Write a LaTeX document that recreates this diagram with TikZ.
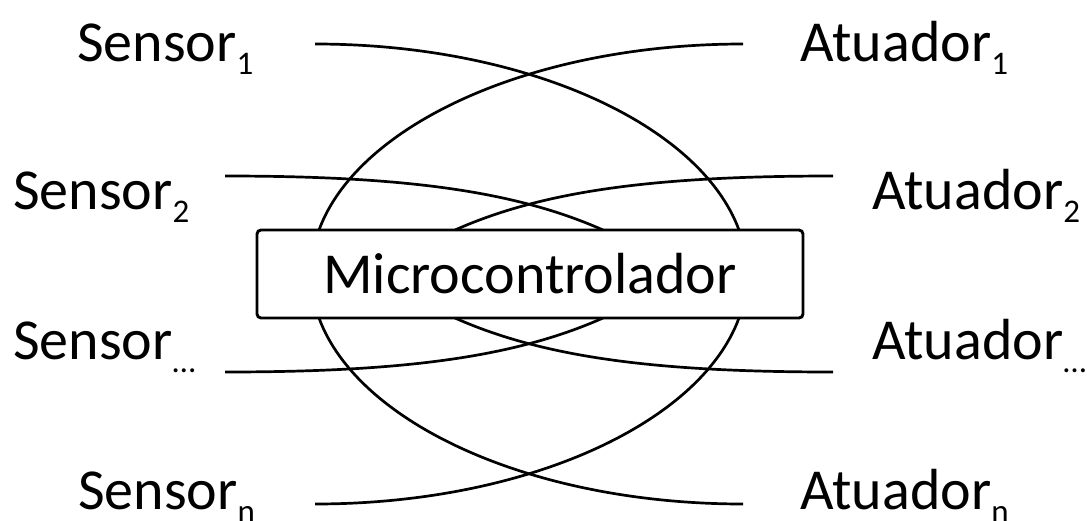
\documentclass[tikz,border=0pt]{standalone}
\usepackage{fontspec}
\setmainfont{Carlito}
% lowered index after a label
\newcommand\lowidx[1]{\raisebox{-13pt}{\fontsize{33}{33}\selectfont #1}}
\begin{document}
\begin{tikzpicture}[x=1pt,y=-1pt,
  lbl/.style={anchor=base west, inner sep=0pt, font=\fontsize{58}{60}\selectfont},
  wire/.style={line width=2.7pt},
  ctrlbox/.style={draw, line width=2.9pt, rounded corners=4pt, fill=white,
    minimum width=546pt, minimum height=88pt, inner sep=0pt,
    font=\fontsize{58}{60}\selectfont}]
\useasboundingbox (0,0) rectangle (1087,520);

% labels
\node[lbl] (S1) at (77,61)  {Sensor\lowidx{1}};
\node[lbl] (S2) at (13,209) {Sensor\lowidx{2}};
\node[lbl] (S3) at (13,359) {Sensor\lowidx{…}};
\node[lbl] (Sn) at (78,509) {Sensor\lowidx{n}};
\node[lbl] (A1) at (800,61)  {Atuador\lowidx{1}};
\node[lbl] (A2) at (872,209) {Atuador\lowidx{2}};
\node[lbl] (A3) at (872,359) {Atuador\lowidx{…}};
\node[lbl] (An) at (800,509) {Atuador\lowidx{n}};

% wire ends next to the labels
\coordinate (s1) at (315,44);
\coordinate (s2) at (225,176);
\coordinate (s3) at (225,372);
\coordinate (sn) at (315,504);
\coordinate (a1) at (743,44);
\coordinate (a2) at (833,176);
\coordinate (a3) at (833,372);
\coordinate (an) at (743,504);

% wire ends on the microcontroller border
\coordinate (m1) at (739,230);
\coordinate (m2) at (603,230);
\coordinate (m3) at (603,318);
\coordinate (mn) at (739,318);
\coordinate (p1) at (319,230);
\coordinate (p2) at (455,230);
\coordinate (p3) at (455,318);
\coordinate (pn) at (319,318);

% sensor wires
\draw[wire] (s1) .. controls (525,44) and (700,124) .. (m1);
\draw[wire] (s2) .. controls (400,176) and (513,190) .. (m2);
\draw[wire] (s3) .. controls (400,372) and (513,358) .. (m3);
\draw[wire] (sn) .. controls (525,504) and (700,424) .. (mn);
% actuator wires
\draw[wire] (a1) .. controls (533,44) and (358,124) .. (p1);
\draw[wire] (a2) .. controls (658,176) and (545,190) .. (p2);
\draw[wire] (a3) .. controls (658,372) and (545,358) .. (p3);
\draw[wire] (an) .. controls (533,504) and (358,424) .. (pn);

% microcontroller
\node[ctrlbox] (mc) at (530,274) {Microcontrolador};
\end{tikzpicture}
\end{document}
